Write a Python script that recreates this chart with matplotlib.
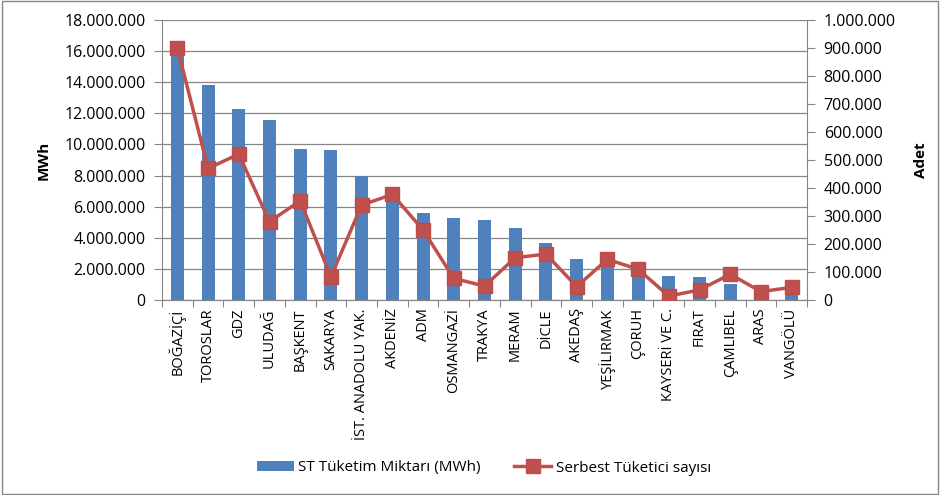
import matplotlib
matplotlib.use("Agg")
import matplotlib.pyplot as plt
from matplotlib.ticker import FuncFormatter
from matplotlib.lines import Line2D
from matplotlib.patches import Patch

categories = ["BOĞAZİÇİ", "TOROSLAR", "GDZ", "ULUDAĞ", "BAŞKENT", "SAKARYA",
              "İST. ANADOLU YAK.", "AKDENİZ", "ADM", "OSMANGAZİ", "TRAKYA", "MERAM",
              "DİCLE", "AKEDAŞ", "YEŞİLIRMAK", "ÇORUH", "KAYSERİ VE C.", "FIRAT",
              "ÇAMLIBEL", "ARAS", "VANGÖLÜ"]
consumption_mwh = [16400000, 13800000, 12300000, 11600000, 9730000, 9620000,
                   7990000, 6500000, 5590000, 5250000, 5120000, 4610000,
                   3690000, 2640000, 2650000, 2050000, 1540000, 1480000,
                   1030000, 450000, 500000]
consumer_count = [900000, 470000, 521000, 280000, 354000, 83000,
                  339000, 377000, 250000, 77000, 50000, 151000,
                  164000, 48000, 145000, 110000, 14000, 36000,
                  92000, 30000, 45000]

left_ticks = list(range(0, 18000001, 2000000))
right_ticks = list(range(0, 1000001, 100000))

plt.rcParams['font.family'] = ['Open Sans', 'DejaVu Sans']

def dotfmt(v, pos=None):
    return f"{int(round(v)):,}".replace(",", ".")

fig = plt.figure(figsize=(9.4, 4.95), dpi=100)
fig.patch.set_facecolor("white")
border = plt.Rectangle((0.002, 0.002), 0.996, 0.996, transform=fig.transFigure,
                       fill=False, edgecolor="#868686", linewidth=1.0)
fig.add_artist(border)

ax = fig.add_axes([162/940, 1-300/495, (807-162)/940, 280/495])
ax2 = ax.twinx()

x = list(range(len(categories)))
ax.bar(x, consumption_mwh, width=0.42, color="#4F81BD", zorder=2)
ax.set_ylim(0, 18000000)
ax.set_xlim(-0.5, len(categories)-0.5)
ax.set_yticks(left_ticks)
ax.yaxis.set_major_formatter(FuncFormatter(dotfmt))
ax.grid(axis="y", color="#868686", linewidth=0.9, zorder=0)
ax.set_axisbelow(True)
ax.set_xticks([i - 0.5 for i in range(len(categories)+1)], minor=False)
ax.set_xticklabels([])
ax.set_xticks(x, minor=True)
ax.set_xticklabels(categories, minor=True, rotation=90, fontsize=10.5)
ax.tick_params(axis="x", which="minor", length=0, pad=6)
ax.tick_params(axis="x", which="major", length=5, color="#868686", direction="out")
ax.tick_params(axis="y", length=6, color="#868686", labelsize=11.5, pad=6)

ax2.plot(x, consumer_count, color="#C0504D", linewidth=2.5, marker="s",
         markersize=10, markerfacecolor="#C0504D", markeredgecolor="#BE4B48", zorder=3)
ax2.set_ylim(0, 1000000)
ax2.set_yticks(right_ticks)
ax2.yaxis.set_major_formatter(FuncFormatter(dotfmt))
ax2.tick_params(axis="y", length=6, color="#868686", labelsize=11.5, pad=6)

for a in (ax, ax2):
    a.spines["top"].set_visible(False)
    a.spines["left"].set_color("#868686")
    a.spines["right"].set_color("#868686")
    a.spines["bottom"].set_color("#868686")
ax.spines["right"].set_visible(False)
ax2.spines["left"].set_visible(False)

ax.set_ylabel("MWh", fontsize=11, fontweight="bold", labelpad=10)
ax2.set_ylabel("Adet", fontsize=11, fontweight="bold", labelpad=13)

handles = [Patch(facecolor="#4F81BD", edgecolor="none"),
           Line2D([0], [0], color="#C0504D", linewidth=2.5, marker="s", markersize=10)]
fig.legend(handles, ["ST Tüketim Miktarı (MWh)", "Serbest Tüketici sayısı"],
           loc="center", bbox_to_anchor=(484/940, 1-468/495), ncol=2, frameon=False,
           fontsize=11, handlelength=2.4, handleheight=0.6, columnspacing=2.2,
           handletextpad=0.3)

fig.savefig("out.png", dpi=100, facecolor="white")
